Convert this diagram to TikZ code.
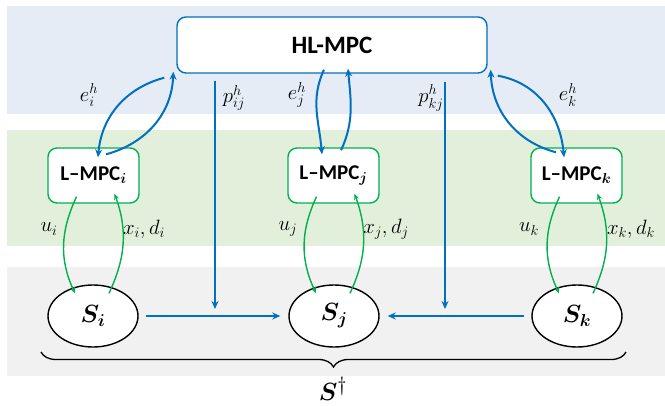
\documentclass[tikz,border=0pt]{standalone}
\usepackage{amsmath,bm}
\usepackage{fontspec}
\setsansfont{Carlito}
\usetikzlibrary{arrows.meta,decorations.pathreplacing,calc,shapes.geometric}
\definecolor{bandblue}{HTML}{E6ECF6}
\definecolor{bandgreen}{HTML}{E2EFDA}
\definecolor{bandgray}{HTML}{F1F1F1}
\definecolor{ctrlblue}{HTML}{0070C0}
\definecolor{ctrlgreen}{HTML}{00B050}
\tikzset{
  hlbox/.style={draw=ctrlblue, line width=1.4pt, fill=white, rounded corners=9pt,
    minimum width=310pt, minimum height=56pt, font=\sffamily\bfseries\fontsize{25}{30}\selectfont},
  lbox/.style={draw=ctrlgreen, line width=1.4pt, fill=white, rounded corners=9pt,
    minimum width=91pt, minimum height=55pt, font=\sffamily\bfseries\fontsize{21}{25}\selectfont},
  plant/.style={draw=black, line width=1.4pt, fill=white, ellipse, minimum width=90pt, minimum height=62pt,
    inner sep=0pt, font=\fontsize{26}{30}\selectfont},
  barrow/.style={draw=ctrlblue, line width=2pt, -{Stealth[length=8pt,width=7pt]}},
  garrow/.style={draw=ctrlgreen, line width=1.4pt, -{Stealth[length=6pt,width=5pt]}},
  lbl/.style={font=\fontsize{20.74}{24}\selectfont, inner sep=0pt},
}
\begin{document}
\begin{tikzpicture}[x=1pt,y=-1pt]
\useasboundingbox (0,0) rectangle (665,405);
% background bands of the three levels
\fill[bandblue] (7,6) rectangle (665,114);
\fill[bandgreen] (7,130) rectangle (665,246);
\fill[bandgray] (7,267) rectangle (665,376);

% controllers and subsystems
\node[hlbox] (hl) at (332,45) {HL-MPC};
\node[lbox] (lmi) at (93.5,175.5) {L--MPC$_{\bm{i}}$};
\node[lbox] (lmj) at (333.5,175.5) {L--MPC$_{\bm{j}}$};
\node[lbox] (lmk) at (576.5,175.5) {L--MPC$_{\bm{k}}$};
\node[plant] (si) at (93,316) {$\bm{S_i}$};
\node[plant] (sj) at (334,316) {$\bm{S_j}$};
\node[plant] (sk) at (577,316) {$\bm{S_k}$};

% high level <-> local level exchange
\draw[barrow] ([xshift=-12pt,yshift=-4pt]hl.south west) to[out=195,in=85] ([xshift=4.5pt,yshift=-10pt]lmi.north);
\draw[barrow] ([xshift=12.5pt,yshift=-7pt]lmi.north) to[out=15,in=268] ([xshift=-3pt,yshift=2pt]hl.south west);
\draw[barrow] ([xshift=-8pt,yshift=4pt]hl.south) to[out=245,in=95] ([xshift=-11.5pt,yshift=-7pt]lmj.north);
\draw[barrow] ([xshift=7.5pt,yshift=-3pt]lmj.north) to[out=65,in=275] ([xshift=16pt,yshift=5pt]hl.south);
\draw[barrow] ([xshift=10pt,yshift=-2pt]hl.south east) to[out=-10,in=95] ([xshift=-12.5pt,yshift=-10pt]lmk.north);
\draw[barrow] ([xshift=-20.5pt,yshift=-5pt]lmk.north) to[out=165,in=-88] ([xshift=3pt,yshift=4pt]hl.south east);

% local level <-> subsystems
\foreach \n/\s in {lmi/si, lmj/sj, lmk/sk}{
  \draw[garrow] ([xshift=-17pt,yshift=7pt]\n.south) to[out=245,in=115] ([xshift=-18pt,yshift=-9pt]\s.north);
  \draw[garrow] ([xshift=16pt,yshift=-9pt]\s.north) to[out=65,in=290] ([xshift=21pt,yshift=10pt]\n.south);
}

% couplings between subsystems
\coordinate (pij) at (215,309);
\coordinate (pkj) at (445,309);
\draw[barrow] ([yshift=-7pt]hl.south -| pij) -- (pij);
\draw[barrow] ([yshift=-8pt]hl.south -| pkj) -- (pkj);
\draw[barrow, shorten <=7pt, shorten >=8pt] (si) -- (sj);
\draw[barrow, shorten <=7pt, shorten >=8pt] (sk) -- (sj);

% labels
\node[lbl] at (89,95) {$e_i^h$};
\node[lbl] at (234,98) {$p_{ij}^h$};
\node[lbl] at (297,95) {$e_j^h$};
\node[lbl] at (431,98) {$p_{kj}^h$};
\node[lbl] at (568,95) {$e_k^h$};
\node[lbl] at (49,229) {$u_i$};
\node[lbl] at (144,229) {$x_i, d_i$};
\node[lbl] at (288,229) {$u_j$};
\node[lbl] at (386,229) {$x_j, d_j$};
\node[lbl] at (529,229) {$u_k$};
\node[lbl] at (631,229) {$x_k, d_k$};

% whole system brace
\coordinate (bl) at (41,352);
\coordinate (br) at (626,352);
\draw[line width=1.3pt, decorate, decoration={brace, mirror, amplitude=15pt}] (bl) -- (br);
\node[font=\fontsize{24.88}{28}\selectfont] (sdag) at (333,389) {$\bm{S}^{\dagger}$};
\end{tikzpicture}
\end{document}
